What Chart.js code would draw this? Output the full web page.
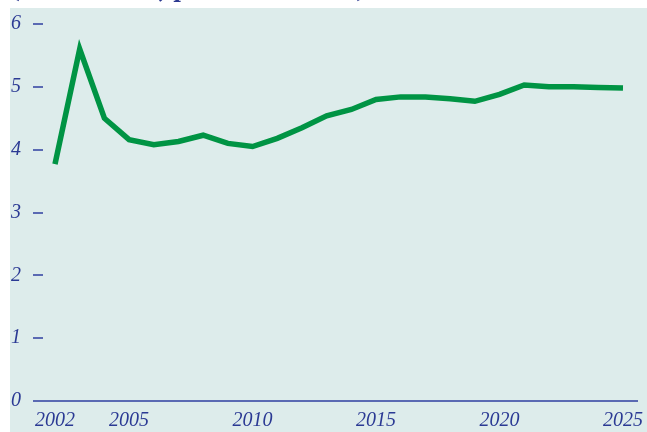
<!DOCTYPE html>
<html>
<head>
<meta charset="utf-8">
<script src="https://cdn.jsdelivr.net/npm/chart.js@4/dist/chart.umd.min.js"></script>
<style>
    html, body { margin: 0; padding: 0; background: #ffffff; overflow: hidden; }
    #wrap { position: relative; width: 647px; height: 432px; }
    #title {
        position: absolute; left: 10px; top: -22px; white-space: nowrap;
        font: bold 21px "DejaVu Serif", serif; color: #2b3990;
    }
    canvas { position: absolute; left: 0; top: 0; }
</style>
</head>
<body>
<div id="wrap">
    <canvas id="chart" width="647" height="432"></canvas>
    <div id="title">(Annual rate, percent of total)</div>
</div>
<script>
// Data
const years = [2002, 2003, 2004, 2005, 2006, 2007, 2008, 2009, 2010, 2011, 2012, 2013,
    2014, 2015, 2016, 2017, 2018, 2019, 2020, 2021, 2022, 2023, 2024, 2025];
const values = [3.77, 5.60, 4.50, 4.16, 4.08, 4.13, 4.23, 4.10, 4.05, 4.18, 4.35, 4.54,
    4.64, 4.80, 4.84, 4.84, 4.81, 4.77, 4.88, 5.03, 5.00, 5.00, 4.99, 4.98];
const xTicks = [2002, 2005, 2010, 2015, 2020, 2025];
const yTicks = [0, 1, 2, 3, 4, 5, 6];

const textColor = '#2b3a94';
const tickColor = '#5a6ab3';

// Light panel behind the plot
const panelPlugin = {
    id: 'panel',
    beforeDraw(chart) {
        const ctx = chart.ctx;
        ctx.save();
        ctx.fillStyle = '#ddeceb';
        ctx.fillRect(10, 8, chart.width - 10, chart.height - 8);
        ctx.restore();
    }
};

const labelFont = { family: '"Liberation Serif", serif', style: 'italic', size: 20 };

new Chart(document.getElementById('chart'), {
    type: 'line',
    data: {
        datasets: [{
            data: years.map((y, i) => ({ x: y, y: values[i] })),
            borderColor: '#009444',
            borderWidth: 5.5,
            pointRadius: 0,
            tension: 0,
            borderJoinStyle: 'miter'
        }]
    },
    options: {
        responsive: false,
        animation: false,
        layout: { padding: { left: 11, right: 10, top: 22, bottom: 0 } },
        plugins: { legend: { display: false }, tooltip: { enabled: false } },
        scales: {
            x: {
                type: 'linear',
                min: 2001.514,
                max: 2025.567,
                afterBuildTicks: axis => { axis.ticks = xTicks.map(v => ({ value: v })); },
                afterFit: axis => {
                    axis.height = 31;
                    // let the end labels hang past the plot edges
                    axis.paddingLeft = 0;
                    axis.paddingRight = 0;
                },
                grid: { display: false, drawTicks: false },
                border: { display: true, color: tickColor, width: 2 },
                ticks: { color: textColor, font: labelFont, padding: 8, maxRotation: 0, autoSkip: false,
                    callback: v => String(v) }
            },
            y: {
                min: 0,
                max: 6,
                afterBuildTicks: axis => { axis.ticks = yTicks.map(v => ({ value: v })); },
                afterFit: axis => { axis.width = 32; },
                grid: { drawOnChartArea: false, drawTicks: true, tickLength: 10, color: tickColor, lineWidth: 2 },
                border: { display: false },
                ticks: { color: textColor, font: labelFont, padding: 12 }
            }
        }
    },
    plugins: [panelPlugin]
});
</script>
</body>
</html>
